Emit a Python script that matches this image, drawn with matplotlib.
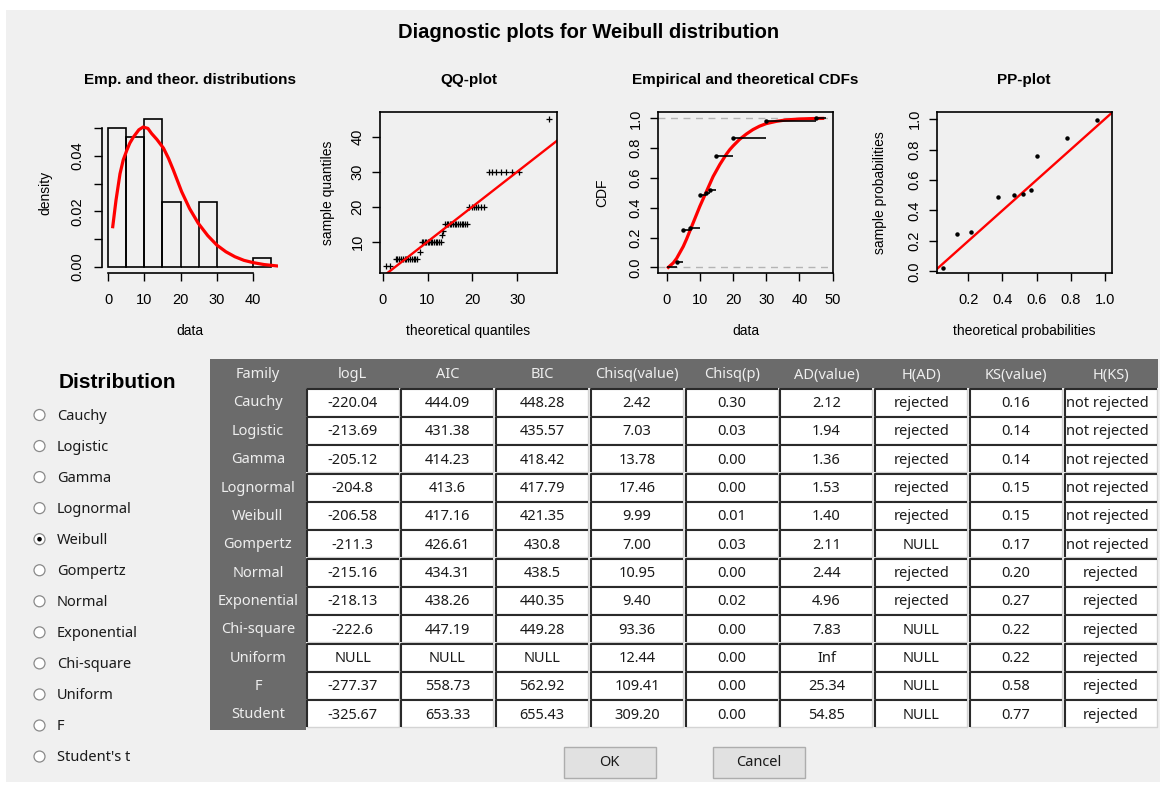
import numpy as np
import matplotlib
matplotlib.use('Agg')
import matplotlib.pyplot as plt
from matplotlib.patches import Rectangle, Circle

plt.rcParams['font.family'] = ['Liberation Sans', 'DejaVu Sans']

W, H = 1166, 785

# ---------------- sample (value, count)
data_values = [3, 5, 7, 10, 12, 13, 15, 20, 30, 45]
data_counts = [2, 13, 1, 13, 1, 1, 14, 7, 7, 1]
hist_breaks = [0, 5, 10, 15, 20, 25, 30, 35, 40, 45]

# fitted Weibull density (red curve)
dens_x = [1.3, 2.2, 3.3, 4.2, 5.2, 6.0, 7.0, 8.5, 9.7, 11.0, 12.0, 13.5, 15.3,
          16.7, 18.0, 20.3, 22.5, 24.9, 27.5, 30.0, 32.5, 35.0, 37.5, 40.0,
          43.0, 46.6]
dens_y = [0.0145, 0.024, 0.0335, 0.0385, 0.042, 0.0445, 0.0467, 0.0493, 0.0503,
          0.0498, 0.048, 0.0458, 0.0427, 0.039, 0.0349, 0.0271, 0.021, 0.0157,
          0.0113, 0.0079, 0.0055, 0.0037, 0.0024, 0.0016, 0.0009, 0.0004]

# theoretical quantiles for the sorted sample (QQ-plot x positions)
qq_theor = [0.8, 1.7,
            2.9, 3.3, 3.7, 4.1, 4.5, 4.9, 5.3, 5.7, 6.1, 6.5, 6.9, 7.3, 7.7,
            8.3,
            8.7, 9.0, 9.4, 9.7, 10.1, 10.4, 10.8, 11.1, 11.5, 11.8, 12.2, 12.5, 12.9,
            13.2, 13.5,
            13.9, 14.3, 14.6, 15.0, 15.3, 15.7, 16.1, 16.4, 16.8, 17.2, 17.6, 18.0, 18.4, 18.9,
            19.3, 19.8, 20.3, 20.8, 21.3, 21.9, 22.5,
            23.6, 24.4, 25.3, 26.3, 27.5, 28.8, 30.4,
            37.0]

# fitted Weibull CDF (red curve)
cdf_x = [0.5, 1, 2, 3, 4, 5, 6, 7, 8, 9, 10, 11, 12, 13, 14, 15, 16, 17, 18,
         19, 20, 22, 24, 26, 28, 30, 33, 36, 40, 44, 47]
cdf_y = [0.0, 0.01, 0.03, 0.06, 0.10, 0.14, 0.19, 0.245, 0.30, 0.355, 0.41,
         0.46, 0.51, 0.56, 0.61, 0.65, 0.69, 0.725, 0.76, 0.79, 0.815, 0.86,
         0.895, 0.925, 0.948, 0.965, 0.98, 0.99, 0.996, 0.999, 1.0]

# PP-plot points
pp_theor = [0.054, 0.132, 0.216, 0.372, 0.469, 0.522, 0.565, 0.600, 0.776, 0.951]
pp_sample = [0.022, 0.245, 0.256, 0.486, 0.499, 0.510, 0.532, 0.759, 0.875, 0.991]

# ---------------- table
col_names = ['Family', 'logL', 'AIC', 'BIC', 'Chisq(value)', 'Chisq(p)',
             'AD(value)', 'H(AD)', 'KS(value)', 'H(KS)']
families = ['Cauchy', 'Logistic', 'Gamma', 'Lognormal', 'Weibull', 'Gompertz',
            'Normal', 'Exponential', 'Chi-square', 'Uniform', 'F', 'Student']
logL = ['-220.04', '-213.69', '-205.12', '-204.8', '-206.58', '-211.3',
        '-215.16', '-218.13', '-222.6', 'NULL', '-277.37', '-325.67']
aic = ['444.09', '431.38', '414.23', '413.6', '417.16', '426.61', '434.31',
       '438.26', '447.19', 'NULL', '558.73', '653.33']
bic = ['448.28', '435.57', '418.42', '417.79', '421.35', '430.8', '438.5',
       '440.35', '449.28', 'NULL', '562.92', '655.43']
chisq_val = ['2.42', '7.03', '13.78', '17.46', '9.99', '7.00', '10.95', '9.40',
             '93.36', '12.44', '109.41', '309.20']
chisq_p = ['0.30', '0.03', '0.00', '0.00', '0.01', '0.03', '0.00', '0.02',
           '0.00', '0.00', '0.00', '0.00']
ad_val = ['2.12', '1.94', '1.36', '1.53', '1.40', '2.11', '2.44', '4.96',
          '7.83', 'Inf', '25.34', '54.85']
h_ad = ['rejected', 'rejected', 'rejected', 'rejected', 'rejected', 'NULL',
        'rejected', 'rejected', 'NULL', 'NULL', 'NULL', 'NULL']
ks_val = ['0.16', '0.14', '0.14', '0.15', '0.15', '0.17', '0.20', '0.27',
          '0.22', '0.22', '0.58', '0.77']
h_ks = ['not rejected'] * 6 + ['rejected'] * 6

radio_opts = ['Cauchy', 'Logistic', 'Gamma', 'Lognormal', 'Weibull', 'Gompertz',
              'Normal', 'Exponential', 'Chi-square', 'Uniform', 'F', "Student's t"]
selected = 'Weibull'

UI_FONT = ['Noto Sans', 'DejaVu Sans']
BG = '#f0f0f0'

fig = plt.figure(figsize=(W / 100, H / 100), dpi=100, facecolor='white')

# background / widgets layer in pixel coordinates
ui = fig.add_axes([0, 0, 1, 1], zorder=-1)
ui.set_xlim(0, W)
ui.set_ylim(H, 0)
ui.axis('off')
ui.add_patch(Rectangle((6, 10), 1154, 772, fc=BG, ec='none'))
ui.text(589, 32, 'Diagnostic plots for Weibull distribution', ha='center',
        va='center', fontsize=14.5, fontweight='bold')


def px_axes(l, t, r, b):
    a = fig.add_axes([l / W, 1 - b / H, (r - l) / W, (b - t) / H])
    a.set_facecolor('none')
    return a


def r_style(a, box, title, xlabel, ylabel, xlab_y, ylab_x, ypad=5):
    l, t, r, b = box
    a.tick_params(direction='out', length=6, width=1, labelsize=10.5,
                  colors='black')
    a.tick_params(axis='x', pad=8.5)
    a.tick_params(axis='y', pad=ypad)
    for lab in a.get_yticklabels():
        lab.set_rotation(90)
        lab.set_va('center')
    for s in a.spines.values():
        s.set_linewidth(1.2)
    a.set_title(title, fontsize=11, fontweight='bold', pad=20)
    a.set_xlabel(xlabel, fontsize=10)
    a.set_ylabel(ylabel, fontsize=10)
    a.xaxis.set_label_coords(0.5, (b - xlab_y) / (b - t))
    a.xaxis.label.set_va('center')
    a.yaxis.set_label_coords((ylab_x - l) / (r - l), 0.5)
    a.yaxis.label.set_va('center')


sample = np.repeat(data_values, data_counts)
n = len(sample)

# ---- histogram + density
box = (101.5, 112, 277.7, 273)
ax = px_axes(*box)
heights = []
for lo, hi in zip(hist_breaks[:-1], hist_breaks[1:]):
    cnt = sum(c for v, c in zip(data_values, data_counts) if lo < v <= hi)
    heights.append(cnt / (n * (hi - lo)))
ax.bar(hist_breaks[:-1], heights, width=5, align='edge', fill=False,
       edgecolor='black', linewidth=1.2)
ax.plot(dens_x, dens_y, color='red', lw=2.3)
ax.set_xlim(-1.8, 46.8)
ax.set_ylim(-0.00214, 0.0557)
ax.spines['top'].set_visible(False)
ax.spines['right'].set_visible(False)
ax.spines['left'].set_bounds(0, 0.05)
ax.spines['bottom'].set_bounds(0, 40)
ax.set_xticks([0, 10, 20, 30, 40])
ax.set_yticks([0, 0.01, 0.02, 0.03, 0.04, 0.05])
ax.set_yticklabels(['0.00', '', '0.02', '', '0.04', ''])
r_style(ax, box, 'Emp. and theor. distributions', 'data', 'density', 331, 45,
        ypad=6.5)

# ---- QQ-plot
box = (380, 112, 557, 273)
ax = px_axes(*box)
ax.plot(qq_theor, np.sort(sample), '+', color='black', ms=4.5, mew=0.9)
ax.axline((0, 0), slope=1, color='red', lw=1.7)
ax.set_xlim(-0.6, 38.85)
ax.set_ylim(1.06, 47.06)
ax.set_xticks([0, 10, 20, 30])
ax.set_yticks([10, 20, 30, 40])
r_style(ax, box, 'QQ-plot', 'theoretical quantiles', 'sample quantiles', 331, 328)

# ---- CDFs
box = (657.7, 111.7, 833.3, 273.3)
ax = px_axes(*box)
ax.axhline(0, ls=(0, (5, 4)), color='#b4b4b4', lw=1)
ax.axhline(1, ls=(0, (5, 4)), color='#b4b4b4', lw=1)
ax.plot(cdf_x, cdf_y, color='red', lw=2.3)
levels = np.cumsum(data_counts) / n
rights = data_values[1:] + [48]
ax.hlines(levels, data_values, rights, colors='black', lw=1.2)
ax.hlines(0, 0, data_values[0], colors='black', lw=1.2)
ax.plot(data_values, levels, 'o', color='black', ms=2.2)
ax.set_xlim(-2.7, 50.2)
ax.set_ylim(-0.04, 1.045)
ax.set_xticks([0, 10, 20, 30, 40, 50])
ax.set_yticks([0, 0.2, 0.4, 0.6, 0.8, 1.0])
ax.set_yticklabels(['0.0', '0.2', '0.4', '0.6', '0.8', '1.0'])
r_style(ax, box, 'Empirical and theoretical CDFs', 'data', 'CDF', 331, 602)

# ---- PP-plot
box = (936.7, 111.7, 1111.7, 273.3)
ax = px_axes(*box)
ax.axline((0, 0), slope=1, color='red', lw=1.7)
ax.plot(pp_theor, pp_sample, 'o', color='black', ms=2.2)
ax.set_xlim(0.015, 1.04)
ax.set_ylim(-0.012, 1.048)
ax.set_xticks([0.2, 0.4, 0.6, 0.8, 1.0])
ax.set_xticklabels(['0.2', '0.4', '0.6', '0.8', '1.0'])
ax.set_yticks([0, 0.2, 0.4, 0.6, 0.8, 1.0])
ax.set_yticklabels(['0.0', '0.2', '0.4', '0.6', '0.8', '1.0'])
r_style(ax, box, 'PP-plot', 'theoretical probabilities', 'sample probabilities',
        331, 880)

# ---- radio buttons
ui.text(117, 382, 'Distribution', ha='center', va='center', fontsize=15,
        fontweight='bold')
for i, opt in enumerate(radio_opts):
    y = 415 + i * 31.05
    ui.add_patch(Circle((39.5, y), 5.5, fc='white', ec='#8a8a8a', lw=0.9))
    if opt == selected:
        ui.add_patch(Circle((39.5, y), 2.3, fc='black', ec='none'))
    ui.text(57, y + 1, opt, ha='left', va='center', fontsize=10.5,
            family=UI_FONT, color='#1a1a1a')

# ---- table
DARK = '#6b6b6b'
ui.add_patch(Rectangle((210, 359), 948, 29, fc=DARK, ec='none'))
ui.add_patch(Rectangle((210, 359), 96, 370.5, fc=DARK, ec='none'))
col_x0 = [306.7 + j * 94.75 for j in range(9)]
ui.text(258, 375, col_names[0], ha='center', va='center', fontsize=10.5,
        family=UI_FONT, color='#eeeeee')
for j, name in enumerate(col_names[1:]):
    ui.text(col_x0[j] + 46, 375, name, ha='center', va='center',
            fontsize=10.5, family=UI_FONT, color='#eeeeee')

columns = [logL, aic, bic, chisq_val, chisq_p, ad_val, h_ad, ks_val, h_ks]
for i, fam in enumerate(families):
    y0 = 388.5 + i * 28.35
    ui.text(258, y0 + 14.5, fam, ha='center', va='center', fontsize=10.5,
            family=UI_FONT, color='#eeeeee')
    for j, col in enumerate(columns):
        x0 = col_x0[j]
        w, h = 92, 27
        cell = Rectangle((x0, y0), w, h, fc='white', ec='none')
        ui.add_patch(cell)
        ui.plot([x0 + w, x0 + w, x0], [y0, y0 + h, y0 + h], color='#d4d4d4',
                lw=1)
        ui.plot([x0, x0, x0 + w], [y0 + h, y0, y0], color='#2a2a2a', lw=1.5,
                solid_capstyle='butt')
        txt = col[i]
        if txt == 'not rejected':
            t = ui.text(x0 + 1, y0 + 15, txt, ha='left', va='center',
                        fontsize=10.5, family=UI_FONT, color='#1a1a1a')
            t.set_clip_path(cell)
        else:
            ui.text(x0 + w / 2, y0 + 15, txt, ha='center', va='center',
                    fontsize=10.5, family=UI_FONT, color='#1a1a1a')

# ---- buttons
for label, x0 in [('OK', 564), ('Cancel', 713.3)]:
    ui.add_patch(Rectangle((x0, 747.3), 91.7, 30.4, fc='#e1e1e1', ec='#adadad',
                           lw=1))
    ui.text(x0 + 45.8, 763, label, ha='center', va='center', fontsize=10.5,
            family=UI_FONT, color='#1a1a1a')

fig.savefig('out.png', dpi=100, facecolor='white')
